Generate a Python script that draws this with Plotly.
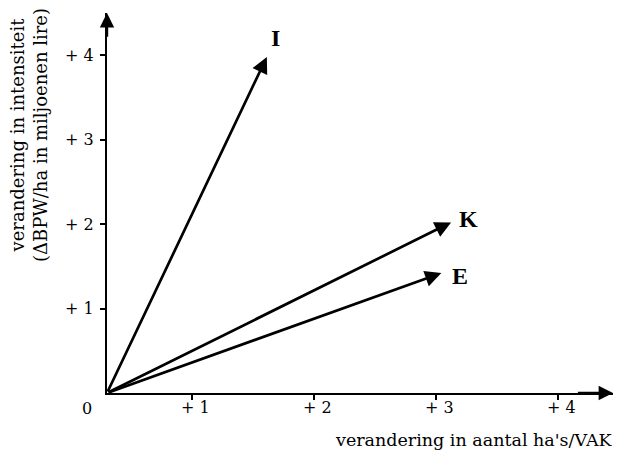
import plotly.graph_objects as go

# Data
vector_names = ["I", "K", "E"]
origin_x = 0.3
origin_y = 0.0
tip_x = [1.61, 3.12, 3.04]
tip_y = [3.98, 2.02, 1.42]
tick_values = [1, 2, 3, 4]
tick_labels = ["+ 1", "+ 2", "+ 3", "+ 4"]
x_title = "verandering in aantal ha's/VAK"
y_title = "verandering in intensiteit<br>(ΔBPW/ha in miljoenen lire)"

FONT = "DejaVu Serif"
LABEL_FONT = "Liberation Serif"
X_MAX = 4.447
Y_MAX = 4.5

fig = go.Figure()
fig.add_trace(go.Scatter(x=[origin_x], y=[origin_y], mode="markers",
                         marker=dict(size=1, color="rgba(0,0,0,0)"),
                         hoverinfo="skip", showlegend=False))

annotations = []
label_offsets = {"I": (0.07, 0.22), "K": (0.14, 0.04), "E": (0.155, -0.03)}
for name, tx, ty in zip(vector_names, tip_x, tip_y):
    annotations.append(dict(
        x=tx, y=ty, ax=origin_x, ay=origin_y, xref="x", yref="y",
        axref="x", ayref="y", showarrow=True, arrowhead=2, arrowsize=1.2,
        arrowwidth=2.7, arrowcolor="black", standoff=0, startstandoff=0, text=""))
    dx, dy = label_offsets[name]
    annotations.append(dict(
        x=tx + dx, y=ty + dy, xref="x", yref="y", text="<b>" + name + "</b>",
        showarrow=False, font=dict(family=LABEL_FONT, size=24, color="black")))

# x tick labels
for tv, tl in zip(tick_values, tick_labels):
    annotations.append(dict(x=tv, y=-0.037, xref="x", yref="paper", text=tl,
                            xanchor="center", yanchor="middle", xshift=3,
                            showarrow=False,
                            font=dict(family=FONT, size=16, color="black")))

# axis arrowheads
annotations.append(dict(x=X_MAX, y=0, ax=X_MAX - 0.3, ay=0, xref="x", yref="y",
                        axref="x", ayref="y", showarrow=True, arrowhead=2,
                        arrowsize=1.2, arrowwidth=2.4, arrowcolor="black",
                        standoff=0, text=""))
annotations.append(dict(x=origin_x, y=Y_MAX, ax=origin_x, ay=Y_MAX - 0.3, xref="x",
                        yref="y", axref="x", ayref="y", showarrow=True,
                        arrowhead=2, arrowsize=1.2, arrowwidth=2.4,
                        arrowcolor="black", standoff=0, text=""))
# zero label
annotations.append(dict(x=-0.0395, y=-0.04, xref="paper", yref="paper", text="0",
                        xanchor="center", yanchor="middle",
                        showarrow=False, font=dict(family=FONT, size=16, color="black")))
# x title
annotations.append(dict(x=1.003, y=-0.124, xref="paper", yref="paper", text=x_title,
                        xanchor="right", yanchor="middle", showarrow=False,
                        font=dict(family=FONT, size=17.5, color="black")))
# y title
annotations.append(dict(x=-0.154, y=0.679, xref="paper", yref="paper", text=y_title,
                        xanchor="center", yanchor="middle",
                        textangle=-90, showarrow=False,
                        font=dict(family=FONT, size=18, color="black")))

fig.update_layout(
    width=619, height=458,
    margin=dict(l=107, r=6, t=13, b=65),
    paper_bgcolor="white", plot_bgcolor="white",
    annotations=annotations,
    showlegend=False,
    xaxis=dict(range=[origin_x, X_MAX], showgrid=False, zeroline=False,
               showline=True, linecolor="black", linewidth=2.2,
               ticks="outside", ticklen=5, tickwidth=1.5, tickcolor="black",
               tickvals=tick_values, showticklabels=False),
    yaxis=dict(range=[0, Y_MAX], showgrid=False, zeroline=False,
               showline=True, linecolor="black", linewidth=2.2,
               ticks="outside", ticklen=5, tickwidth=1.5, tickcolor="black",
               tickvals=tick_values, ticktext=tick_labels, ticklabelstandoff=3,
               tickfont=dict(family=FONT, size=16, color="black")),
)

fig.write_html("out.html", config={"displayModeBar": False},
               post_script="document.body.style.margin='0px';")
